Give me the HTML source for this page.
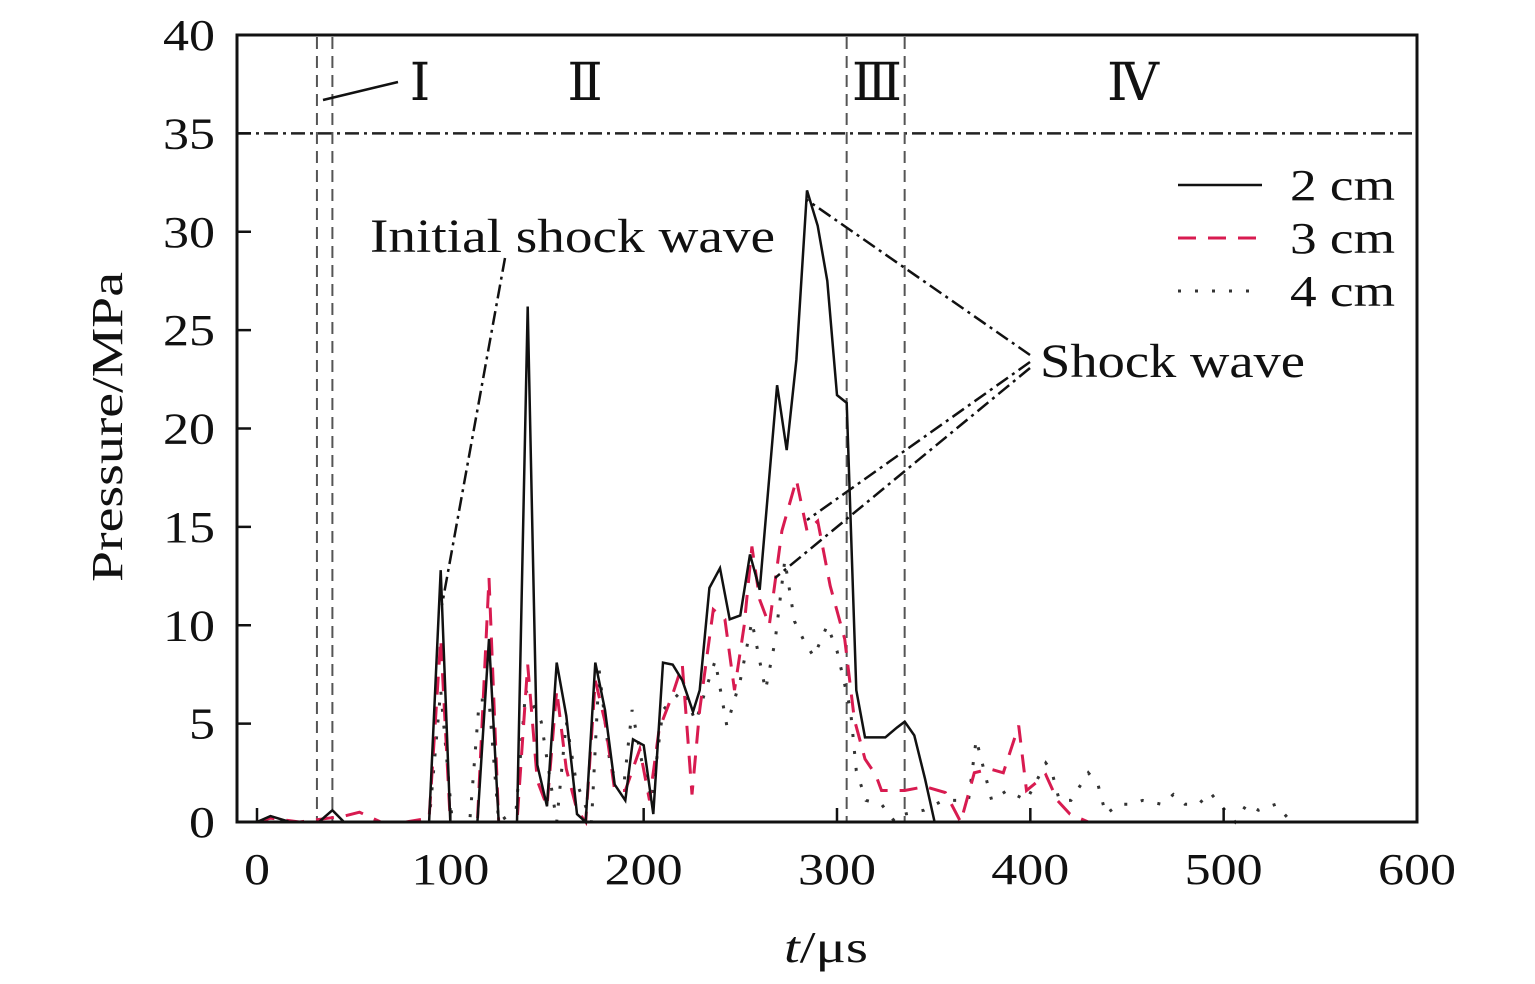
<!DOCTYPE html>
<html><head><meta charset="utf-8"><style>
html,body{margin:0;padding:0;background:#fff;}
svg{display:block;font-family:"Liberation Serif",serif;}
</style></head><body>
<svg id="chart" width="1535" height="984" viewBox="0 0 1535 984">
<rect x="0" y="0" width="1535" height="984" fill="#fff"/>
<g id="plot"></g>
</svg>
<script>
const xTicks=[0,100,200,300,400,500,600];
const yTicks=[0,5,10,15,20,25,30,35,40];
const t2=[0,7,17,32,39,45,89,95,100,114,120,125,134.5,140,145,150,155,160,165.5,170,175,180,185,190.5,194.5,200,205,210,215,220,225.5,229,234,239.5,244.5,250,255,260,269,274,279,284.5,290,295,300,305,310,314.5,325,331,335,340,345.5,350.5,600];
const p2=[0,0.3,0,0,0.6,0,0,12.8,0,0,9.3,0,0,26.2,2.9,0.8,8.1,5.4,0.4,0,8.1,5.7,1.9,1.1,4.2,3.9,0.4,8.1,8.0,7.2,5.6,6.7,11.9,12.9,10.3,10.5,13.6,11.8,22.2,18.9,23.5,32.1,30.3,27.5,21.7,21.3,6.7,4.3,4.3,4.8,5.1,4.4,2.2,0,0];
const t3=[0,7,22,45,53,64,77,89,95,100,114,120,125,134.5,140,145,150,155,160,165.5,170,175,180,185,190.5,198,203,208,215,220,225,229,236,242,247,252,256,260,265,271.5,279,284.5,290,296.5,304,309,314.5,320,323,335,345.5,356,364,371,379,386,394,398,408,414,420.5,430,600];
const p3=[0,0.2,0,0.3,0.5,0,0,0.2,9.3,0,0,12.4,0,0,8,2.1,0.8,6.7,2.7,0.6,0,7.2,5.1,1.6,1.6,3.7,1.1,4.7,6.5,8,1.4,5.7,10.8,10.3,6.7,10,14,11.3,10,14.8,17.4,14.8,15.3,12,9.3,5.2,3.2,2.4,1.6,1.6,1.8,1.5,0,2.5,2.7,2.5,4.9,1.6,2.4,1.1,0.4,0,0];
const t4=[0,89,95,101,110,115,120,125,134,139,147,155,160,165,173,177,183,190,194,199,204,210,215,220,227,232,237,243,250,256,263,268,273,278,283,288,295,300,307,310,315,323,330,335,345,355,368,372,380,388,398,408,411,415,421,430,435,439,446,452,458,468,474,480,487,493,498,506,512,518,527,535,600];
const p4=[0,0,6.7,0,0,6.2,6.2,0,0.6,6.7,5.1,0,5.1,2.1,0,7.7,2.6,2.1,5.7,3.1,1.1,5.7,6.2,6.7,5.1,6.7,8.2,4.9,7.2,10.2,6.7,9.2,13.3,10.2,9.2,8.4,10,8.7,5.7,2.6,1.1,0.9,0,0.4,0.6,1.1,1.1,4.2,1.1,1.6,1.1,3.0,2.6,1.1,1.1,2.5,1.9,0.4,0.9,0.9,1.1,0.9,1.4,0.9,0.9,1.5,0.9,0,0.9,0.6,0.9,0,0];

const NS="http://www.w3.org/2000/svg";
const g=document.getElementById('plot');
const X0=257,XS=1.9333,Y0=822,YS=19.675;
function sx(t){return X0+t*XS;}
function sy(p){return Y0-p*YS;}
function mk(tag,attrs,parent){const e=document.createElementNS(NS,tag);for(const k in attrs)e.setAttribute(k,attrs[k]);(parent||g).appendChild(e);return e;}

const hl=mk('line',{x1:237,x2:1417,y1:sy(35),y2:sy(35),stroke:'#222','stroke-width':2.5,'stroke-dasharray':'14,5,3,5'});


const vls=[31,39,305,335];
vls.forEach((v,i)=>{const l=mk('line',{x1:sx(v),x2:sx(v),y1:37,y2:822,stroke:'#555','stroke-width':2,'stroke-dasharray':'12,7'});

});

function series(ts,ps,color,dash,width,name){
  const d=ts.map((t,i)=>(i?'L':'M')+sx(t).toFixed(1)+','+sy(ps[i]).toFixed(1)).join('');
  const p=mk('path',{d:d,fill:'none',stroke:color,'stroke-width':width,'stroke-dasharray':dash,'stroke-linejoin':'miter'});
  
  
}
series(t4,p4,'#333','3,14',3,'series-4cm');
series(t3,p3,'#d81b50','18,12',3,'series-3cm');
series(t2,p2,'#111','none',2.5,'series-2cm');

const fr=mk('rect',{x:237,y:35,width:1180,height:787,fill:'none',stroke:'#111','stroke-width':3});



xTicks.forEach(v=>{
  const l=mk('line',{x1:sx(v),x2:sx(v),y1:822,y2:808,stroke:'#111','stroke-width':2.5});
  
  
  const s=String(v);
  const tx=mk('text',{x:sx(v),y:884,'font-size':44,'text-anchor':'middle',fill:'#111',textLength:s.length*26,lengthAdjust:'spacingAndGlyphs'});
  tx.textContent=s;
  
  
});
yTicks.forEach(v=>{
  const l=mk('line',{x1:237,x2:251,y1:sy(v),y2:sy(v),stroke:'#111','stroke-width':2.5});
  
  
  const s=String(v);
  const tx=mk('text',{x:215,y:sy(v)+15,'font-size':44,'text-anchor':'end',fill:'#111',textLength:s.length*26,lengthAdjust:'spacingAndGlyphs'});
  tx.textContent=s;
  
  
});
</script>
<svg width="1535" height="984" style="position:absolute;left:0;top:0">
<g font-family="Liberation Serif, DejaVu Serif, serif" fill="#111">
<text x="122" y="427" font-size="44" text-anchor="middle" textLength="310" lengthAdjust="spacingAndGlyphs" transform="rotate(-90 122 427)">Pressure/MPa</text>
<text x="826" y="962" font-size="44" text-anchor="middle" textLength="84" lengthAdjust="spacingAndGlyphs"><tspan font-style="italic">t</tspan>/μs</text>
<text x="420" y="100" font-size="52" text-anchor="middle" font-family="DejaVu Serif, serif">Ⅰ</text>
<text x="585" y="100" font-size="52" text-anchor="middle" font-family="DejaVu Serif, serif">Ⅱ</text>
<text x="877" y="100" font-size="52" text-anchor="middle" font-family="DejaVu Serif, serif">Ⅲ</text>
<text x="1133" y="100" font-size="52" text-anchor="middle" font-family="DejaVu Serif, serif">Ⅳ</text>
<text x="370" y="252" font-size="48" textLength="405" lengthAdjust="spacingAndGlyphs">Initial shock wave</text>
<text x="1040" y="377" font-size="48" textLength="265" lengthAdjust="spacingAndGlyphs">Shock wave</text>
<g>
<line x1="1178" y1="185" x2="1262" y2="185" stroke="#111" stroke-width="2.5"/>
<text x="1290" y="200" font-size="44" textLength="105" lengthAdjust="spacingAndGlyphs">2 cm</text>
<line x1="1178" y1="238" x2="1262" y2="238" stroke="#d81b50" stroke-width="3" stroke-dasharray="18,12"/>
<text x="1290" y="253" font-size="44" textLength="105" lengthAdjust="spacingAndGlyphs">3 cm</text>
<line x1="1178" y1="291" x2="1262" y2="291" stroke="#333" stroke-width="3" stroke-dasharray="3,14"/>
<text x="1290" y="306" font-size="44" textLength="105" lengthAdjust="spacingAndGlyphs">4 cm</text>
</g>
</g>
<g stroke="#111" stroke-width="2.5" fill="none">
<line x1="323" y1="100" x2="398" y2="82"/>
<line x1="505" y1="258" x2="442" y2="605" stroke-dasharray="14,5,3,5"/>
<line x1="1030" y1="355" x2="807" y2="200" stroke-dasharray="14,5,3,5"/>
<line x1="1030" y1="362" x2="807" y2="520" stroke-dasharray="14,5,3,5"/>
<line x1="1030" y1="368" x2="775" y2="578" stroke-dasharray="14,5,3,5"/>
</g>
</svg>
</body></html>
